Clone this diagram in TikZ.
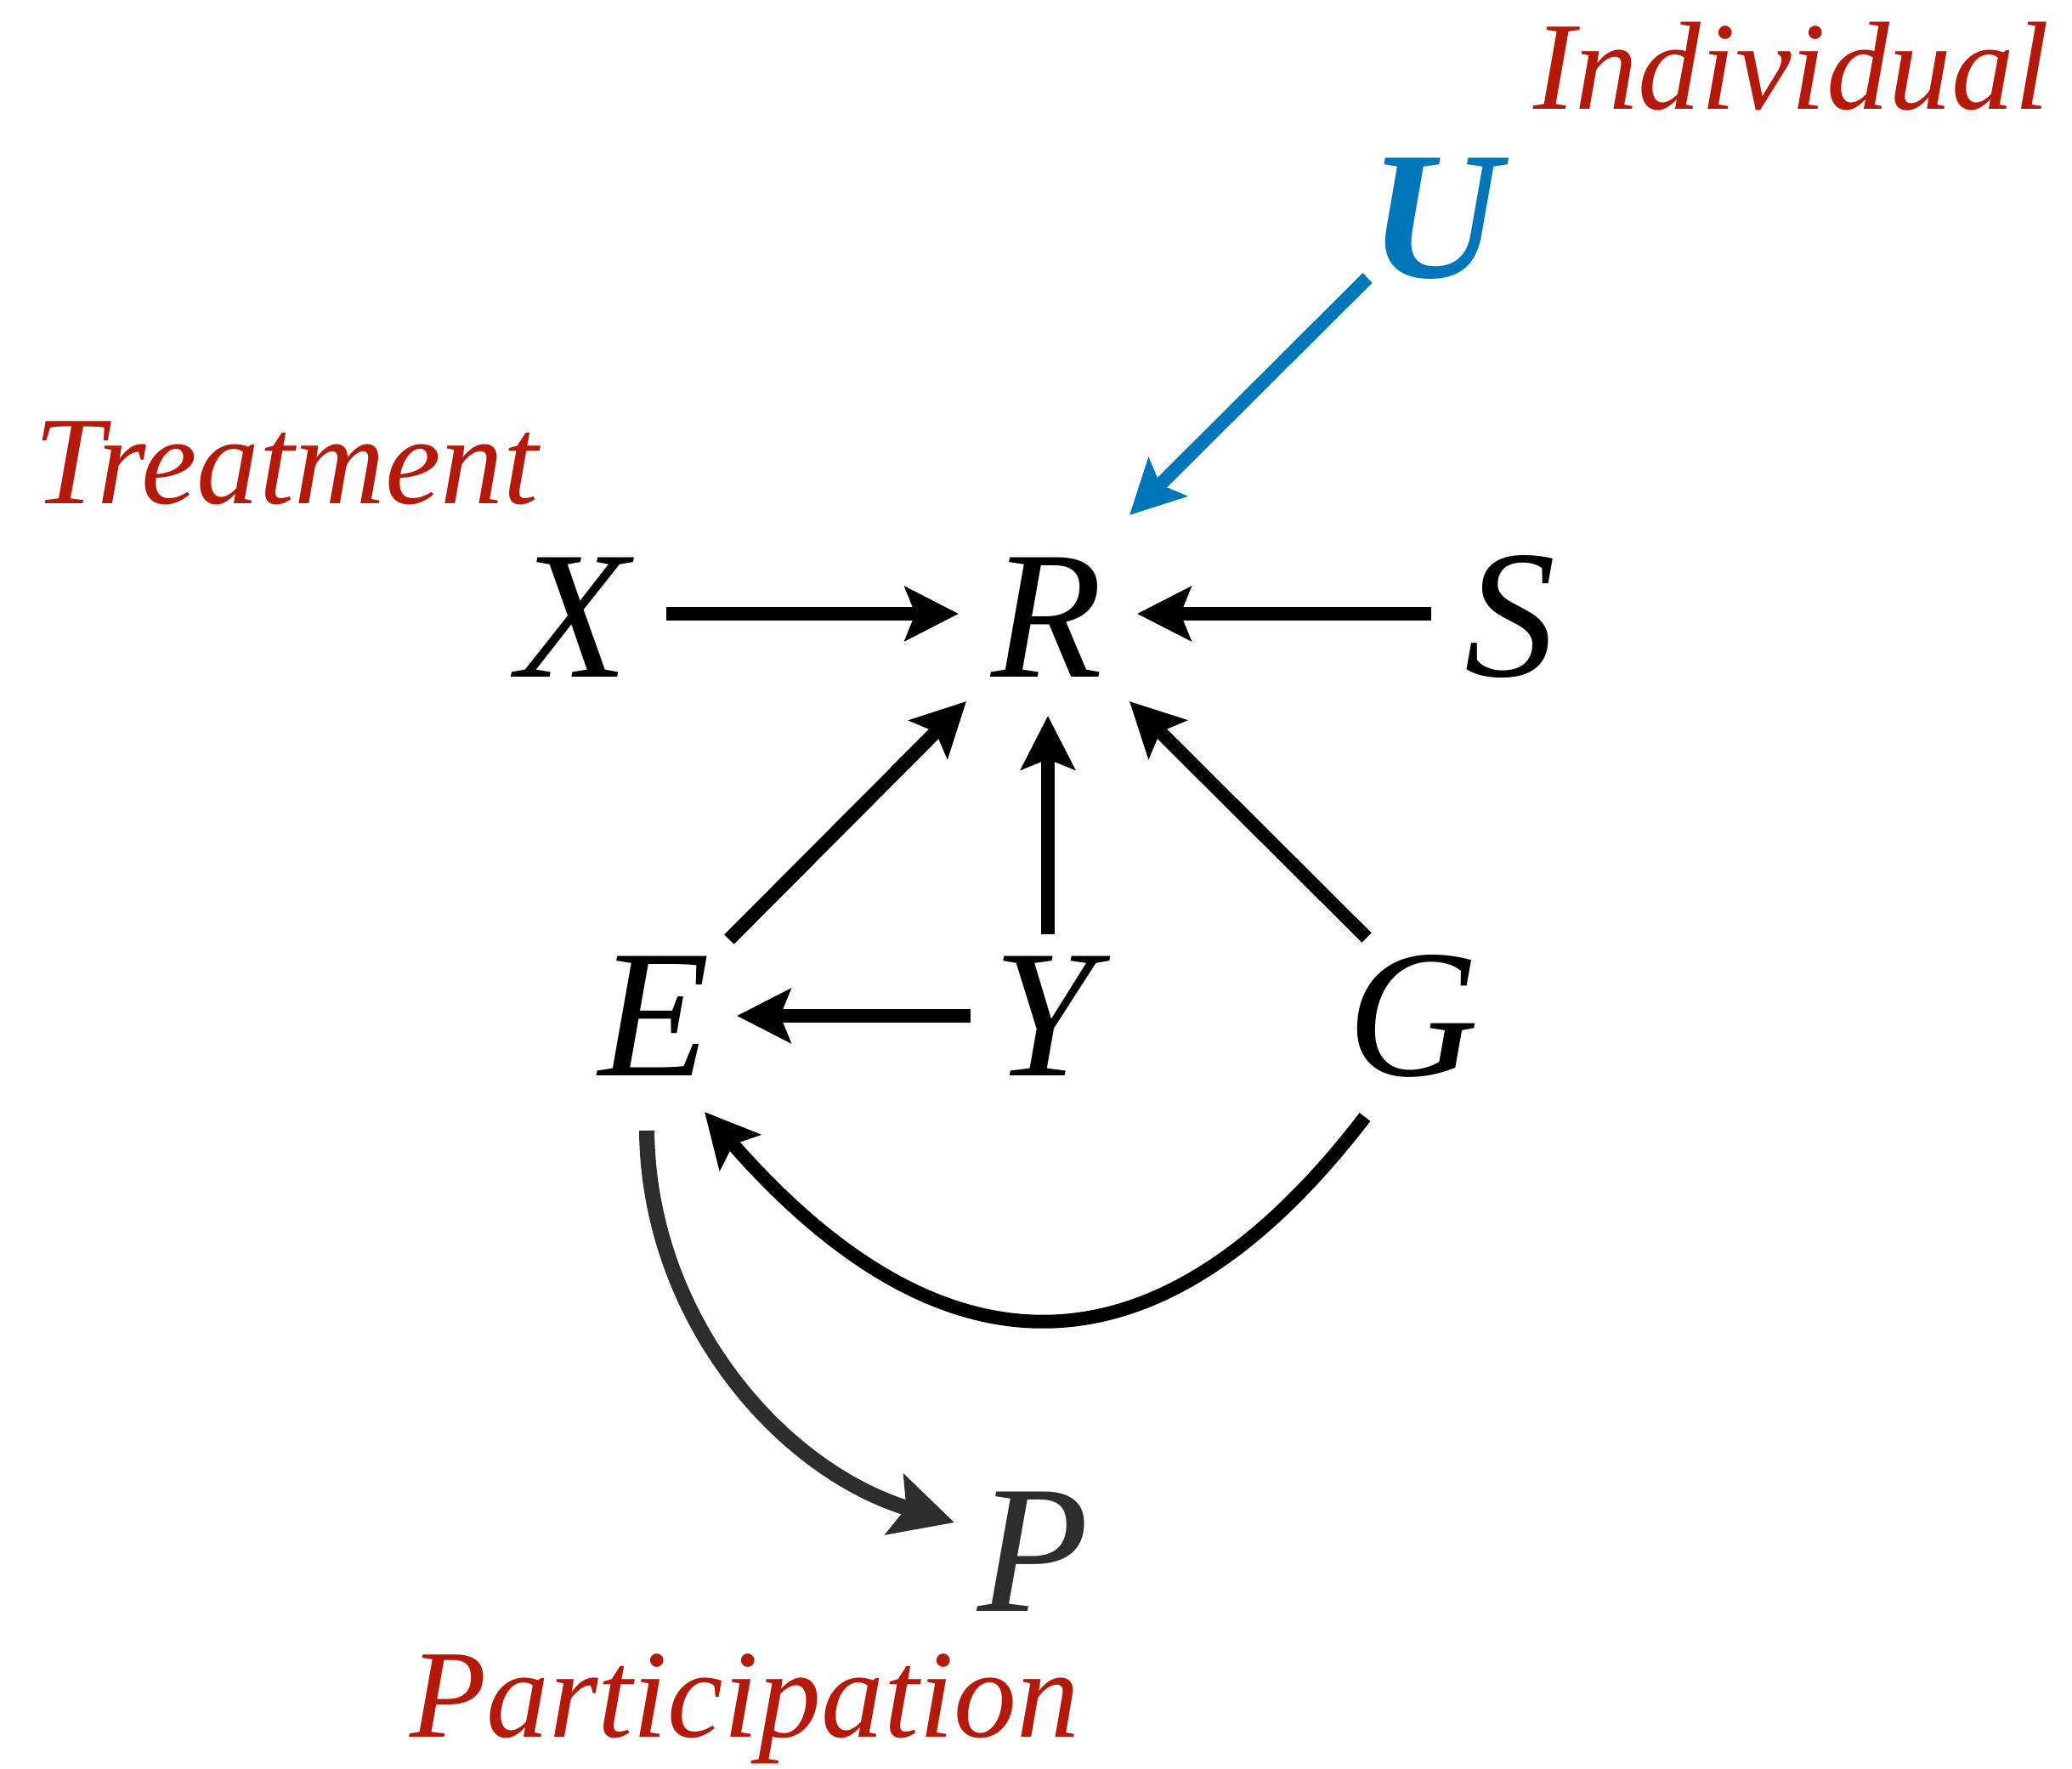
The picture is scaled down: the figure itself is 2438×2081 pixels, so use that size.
\documentclass[tikz,border=0pt]{standalone}
\usepackage{fontspec}
\setmainfont{Liberation Serif}
\usetikzlibrary{arrows.meta}
\definecolor{lblred}{RGB}{180,25,10}
\definecolor{ublue}{RGB}{0,118,186}
\definecolor{pgray}{RGB}{45,45,45}
\begin{document}
\begin{tikzpicture}[x=0.01cm,y=-0.01cm,
  var/.style={font=\fontsize{61}{70}\selectfont\itshape, inner sep=0pt},
  lbl/.style={font=\fontsize{42}{50}\selectfont\itshape, text=lblred, inner sep=0pt, anchor=base},
  arr/.style={line width=0.16cm, -{Stealth[length=0.63cm,width=0.63cm,inset=0.12cm]}},
  parr/.style={line width=0.18cm, pgray, -{Stealth[length=0.73cm,width=0.73cm,inset=0.14cm]}}
]
\path[use as bounding box] (0,0) rectangle (2438,2081);

\node[var] (X) at (674,726) {X};
\node[var] (R) at (1232,726) {R};
\node[var] (S) at (1777,726) {S};
\node[var, font=\fontsize{61}{70}\selectfont\itshape\bfseries, text=ublue] (U) at (1689,257) {U};
\node[var] (E) at (770,1195) {E};
\node[var] (Y) at (1228,1195) {Y};
\node[var] (G) at (1663,1195) {G};
\node[var, text=pgray] (P) at (1216,1825) {P};

\node[lbl] (treat) at (337,592) {Treatment};
\node[lbl] (indiv) at (2108,128) {Individual};
\node[lbl] (partic) at (876,2043) {Participation};

\draw[arr] ([shift={(110,-4)}]X.center) -- ([shift={(-104,-4)}]R.center);
\draw[arr] ([shift={(-93,-4)}]S.center) -- ([shift={(106,-4)}]R.center);
\draw[arr, ublue] ([shift={(-80,70)}]U.center) -- ([shift={(97,-120)}]R.center);
\draw[arr] ([shift={(88,-90)}]E.center) -- ([shift={(-95,99)}]R.center);
\draw[arr] ([shift={(5,-96)}]Y.center) -- ([shift={(1,116)}]R.center);
\draw[arr] ([shift={(-55,-92)}]G.center) -- ([shift={(97,99)}]R.center);
\draw[arr] ([shift={(-86,0)}]Y.center) -- ([shift={(97,0)}]E.center);
\draw[arr] ([shift={(-57,119)}]G.center) .. controls (1356,1640) and (1102,1620) .. ([shift={(59,113)}]E.center);
\draw[parr] ([shift={(-9,135)}]E.center) .. controls (763,1547) and (915,1728) .. ([shift={(-93,-34)}]P.center);
\end{tikzpicture}
\end{document}
